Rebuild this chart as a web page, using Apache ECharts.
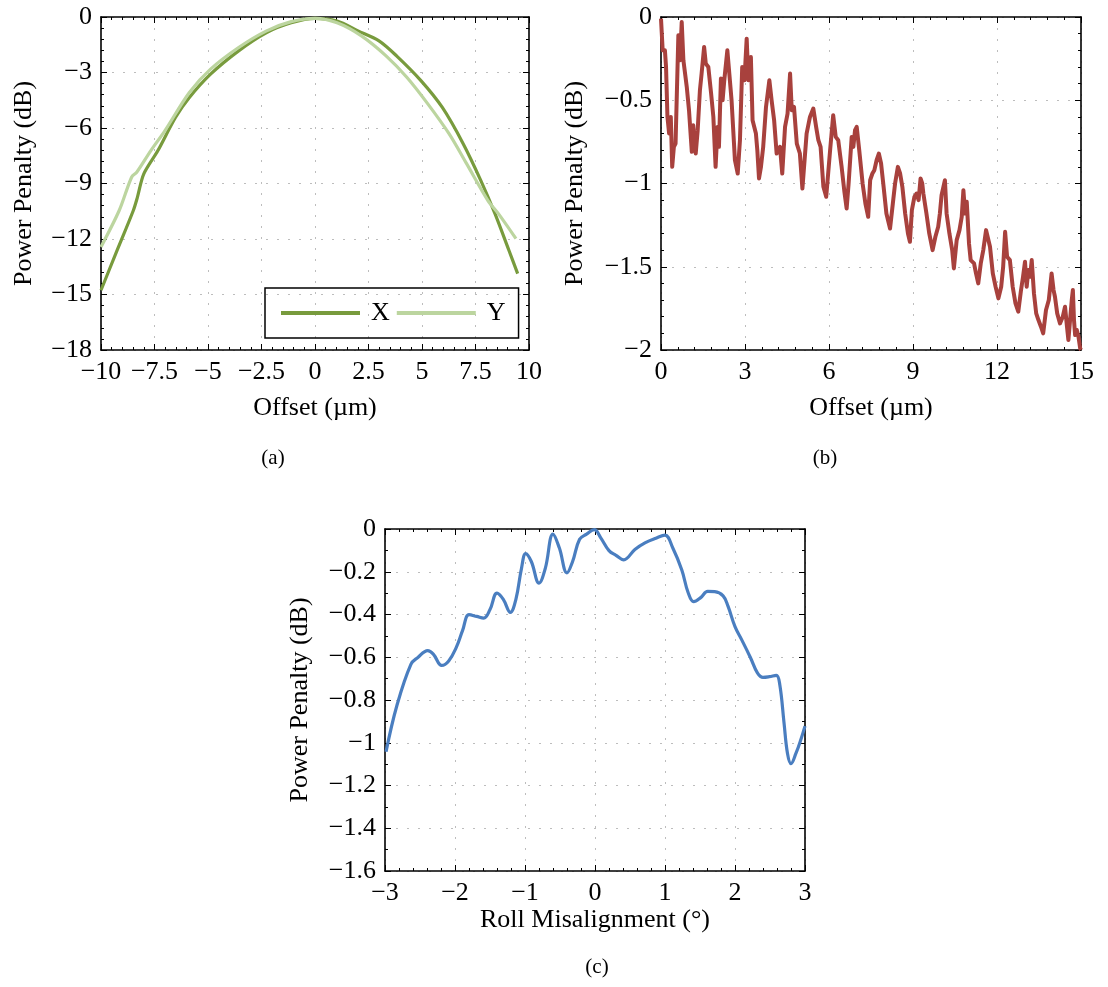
<!DOCTYPE html>
<html>
<head>
<meta charset="utf-8">
<script src="https://cdn.jsdelivr.net/npm/echarts@6/dist/echarts.min.js"></script>
<style>
html,body{margin:0;padding:0;background:#fff;}
#c{width:1108px;height:987px;}
</style>
</head>
<body>
<div id="c"></div>
<script>
// Panel (a): Offset (µm) vs Power Penalty (dB), X and Y
const aXoff = [-10, -9.31, -8.49, -8.3, -8.0, -7.34, -6.52, -5.87, -4.88, -3.57, -2.26, -1.11, 0, 1.03, 2.01, 2.99, 3.81, 4.96, 5.95, 6.93, 7.75, 8.41, 9.06, 9.47];
const aXpp  = [-14.77, -12.79, -10.46, -9.75, -8.48, -7.22, -5.43, -4.35, -3.09, -1.83, -0.84, -0.31, -0.07, -0.22, -0.75, -1.29, -2.10, -3.45, -4.89, -6.86, -8.84, -10.63, -12.61, -13.87];
const aYoff = [-10, -9.15, -8.57, -8.33, -7.67, -7.01, -5.87, -4.88, -3.57, -2.26, -1.11, 0, 1.03, 2.17, 3.32, 4.30, 5.28, 6.27, 7.09, 8.08, 8.57, 9.39];
const aYpp  = [-12.43, -10.46, -8.66, -8.39, -7.22, -6.14, -4.08, -2.82, -1.65, -0.75, -0.25, -0.07, -0.31, -1.02, -2.10, -3.27, -4.71, -6.32, -7.94, -9.92, -10.63, -11.98];

// Panel (b): Offset (µm) vs Power Penalty (dB)
const bOff = [0, 0.02, 0.06, 0.14, 0.18, 0.23, 0.29, 0.35, 0.40, 0.46, 0.52, 0.62, 0.68, 0.74, 0.80, 0.92, 1.00, 1.06, 1.10, 1.15, 1.24, 1.31, 1.39, 1.45, 1.54, 1.60, 1.69, 1.79, 1.87, 1.95, 2.02, 2.07, 2.14, 2.20, 2.26, 2.37, 2.44, 2.52, 2.64, 2.74, 2.82, 2.90, 2.98, 3.06, 3.12, 3.21, 3.27, 3.39, 3.44, 3.50, 3.57, 3.65, 3.75, 3.87, 3.95, 4.04, 4.13, 4.25, 4.33, 4.43, 4.52, 4.61, 4.67, 4.75, 4.85, 4.96, 5.05, 5.20, 5.32, 5.44, 5.54, 5.62, 5.70, 5.80, 5.90, 6.04, 6.15, 6.24, 6.33, 6.45, 6.55, 6.63, 6.70, 6.81, 6.87, 6.93, 6.99, 7.08, 7.20, 7.30, 7.40, 7.47, 7.55, 7.62, 7.70, 7.78, 7.86, 7.95, 8.05, 8.18, 8.28, 8.36, 8.46, 8.54, 8.62, 8.72, 8.82, 8.89, 8.96, 9.05, 9.13, 9.20, 9.27, 9.33, 9.37, 9.48, 9.58, 9.70, 9.80, 9.90, 9.96, 10.02, 10.14, 10.20, 10.30, 10.40, 10.46, 10.56, 10.66, 10.74, 10.80, 10.86, 10.92, 11.00, 11.06, 11.18, 11.25, 11.33, 11.42, 11.51, 11.61, 11.75, 11.85, 11.95, 12.05, 12.15, 12.22, 12.29, 12.36, 12.46, 12.56, 12.66, 12.76, 12.85, 12.93, 13.00, 13.06, 13.12, 13.18, 13.24, 13.32, 13.40, 13.48, 13.57, 13.65, 13.75, 13.85, 13.95, 14.02, 14.07, 14.15, 14.25, 14.35, 14.43, 14.50, 14.55, 14.62, 14.67, 14.71, 14.75, 14.79, 14.85, 14.91, 14.97, 15.0];
const bPP  = [-0.01, -0.01, -0.20, -0.20, -0.30, -0.60, -0.70, -0.60, -0.90, -0.78, -0.76, -0.11, -0.26, -0.03, -0.26, -0.42, -0.56, -0.56, -0.81, -0.65, -0.82, -0.68, -0.44, -0.34, -0.18, -0.28, -0.30, -0.46, -0.60, -0.90, -0.66, -0.78, -0.37, -0.50, -0.38, -0.20, -0.21, -0.50, -0.86, -0.94, -0.74, -0.30, -0.38, -0.13, -0.38, -0.24, -0.62, -0.70, -0.80, -0.97, -0.90, -0.78, -0.54, -0.38, -0.50, -0.62, -0.82, -0.78, -0.94, -0.66, -0.58, -0.34, -0.56, -0.54, -0.76, -0.82, -1.03, -0.70, -0.60, -0.55, -0.66, -0.74, -0.78, -1.02, -1.08, -0.80, -0.59, -0.72, -0.74, -0.90, -1.05, -1.15, -1.00, -0.72, -0.78, -0.68, -0.66, -0.80, -1.00, -1.12, -1.20, -0.98, -0.94, -0.92, -0.86, -0.82, -0.88, -1.02, -1.18, -1.27, -1.12, -1.00, -0.90, -0.94, -1.02, -1.18, -1.30, -1.35, -1.16, -1.08, -1.06, -1.10, -0.97, -1.00, -1.06, -1.18, -1.30, -1.40, -1.32, -1.26, -1.18, -1.07, -0.98, -1.18, -1.30, -1.40, -1.51, -1.34, -1.28, -1.20, -1.04, -1.18, -1.11, -1.36, -1.46, -1.48, -1.54, -1.60, -1.48, -1.40, -1.28, -1.38, -1.54, -1.62, -1.69, -1.62, -1.50, -1.29, -1.44, -1.46, -1.62, -1.72, -1.77, -1.65, -1.56, -1.47, -1.62, -1.52, -1.56, -1.46, -1.66, -1.78, -1.82, -1.86, -1.90, -1.76, -1.70, -1.54, -1.64, -1.68, -1.78, -1.84, -1.80, -1.74, -1.86, -1.94, -1.80, -1.70, -1.64, -1.82, -1.91, -1.88, -1.92, -1.99, -2.0];

// Panel (c): Roll Misalignment (°) vs Power Penalty (dB)
const cRoll = [-2.985, -2.83, -2.63, -2.53, -2.39, -2.31, -2.19, -2.09, -1.98, -1.89, -1.80, -1.69, -1.59, -1.50, -1.40, -1.31, -1.21, -1.13, -1.05, -0.99, -0.91, -0.80, -0.71, -0.60, -0.51, -0.40, -0.32, -0.22, -0.12, -0.01, 0.08, 0.20, 0.30, 0.41, 0.57, 0.72, 0.87, 1.00, 1.11, 1.24, 1.33, 1.41, 1.51, 1.61, 1.71, 1.83, 1.90, 2.00, 2.10, 2.22, 2.32, 2.40, 2.49, 2.59, 2.64, 2.70, 2.75, 2.80, 2.87, 2.94, 3.00];
const cPP   = [-1.042, -0.826, -0.633, -0.601, -0.569, -0.585, -0.638, -0.617, -0.553, -0.473, -0.401, -0.409, -0.417, -0.377, -0.300, -0.329, -0.390, -0.329, -0.184, -0.115, -0.152, -0.253, -0.184, -0.024, -0.088, -0.205, -0.152, -0.048, -0.024, -0.003, -0.040, -0.101, -0.123, -0.144, -0.096, -0.064, -0.043, -0.029, -0.088, -0.192, -0.297, -0.340, -0.321, -0.292, -0.293, -0.313, -0.361, -0.457, -0.521, -0.601, -0.673, -0.694, -0.691, -0.685, -0.729, -0.906, -1.050, -1.098, -1.050, -0.986, -0.922];

const panelLabels = ['(a)', '(b)', '(c)'];

const zip = (xs, ys) => xs.map((x, i) => [x, ys[i]]);
const FONT = 'Liberation Serif';
const FS = 26;
const fmt = v => String(parseFloat(Number(v).toFixed(3))).replace('-', '\u2212');

function axisCommon(extra) {
  return Object.assign({
    type: 'value',
    axisLine: { show: true, onZero: false, lineStyle: { color: '#000', width: 1.6 } },
    axisTick: { show: true, inside: true, length: 6, lineStyle: { color: '#000', width: 1 } },
    minorTick: { show: true, splitNumber: 5, length: 3, lineStyle: { color: '#000', width: 1 } },
    axisLabel: { show: true, formatter: fmt, color: '#000', fontFamily: FONT, fontSize: FS, margin: 9 },
    splitLine: { show: false },
    nameTextStyle: { color: '#000', fontFamily: FONT, fontSize: FS }
  }, extra);
}
function secondary(extra) {
  const a = axisCommon(extra);
  a.axisLabel = { show: false };
  a.splitLine = { show: false };
  return a;
}
const gridLine = { show: true, lineStyle: { color: '#bdbdbd', type: [2, 9], width: 1 } };
const minor2 = { show: true, splitNumber: 2, length: 3, lineStyle: { color: '#000', width: 1 } };

const grids = [
  { left: 101, top: 17, width: 428, height: 333 },
  { left: 661, top: 17, width: 420, height: 333 },
  { left: 385, top: 529, width: 420, height: 342 }
];

const xAxes = [
  axisCommon({ gridIndex: 0, position: 'bottom', min: -10, max: 10, interval: 2.5, name: 'Offset (\u00b5m)', nameLocation: 'middle', nameGap: 45, splitLine: gridLine }),
  secondary({ gridIndex: 0, position: 'top', min: -10, max: 10, interval: 2.5 }),
  axisCommon({ gridIndex: 1, position: 'bottom', min: 0, max: 15, interval: 3, name: 'Offset (\u00b5m)', nameLocation: 'middle', nameGap: 45, splitLine: gridLine }),
  secondary({ gridIndex: 1, position: 'top', min: 0, max: 15, interval: 3 }),
  axisCommon({ gridIndex: 2, position: 'bottom', min: -3, max: 3, interval: 1, name: 'Roll Misalignment (\u00b0)', nameLocation: 'middle', nameGap: 36, splitLine: gridLine }),
  secondary({ gridIndex: 2, position: 'top', min: -3, max: 3, interval: 1 })
];
const yAxes = [
  axisCommon({ gridIndex: 0, position: 'left', min: -18, max: 0, interval: 3, name: 'Power Penalty (dB)', nameLocation: 'middle', nameGap: 64, splitLine: gridLine }),
  secondary({ gridIndex: 0, position: 'right', min: -18, max: 0, interval: 3 }),
  axisCommon({ gridIndex: 1, position: 'left', min: -2, max: 0, interval: 0.5, name: 'Power Penalty (dB)', nameLocation: 'middle', nameGap: 73, splitLine: gridLine }),
  secondary({ gridIndex: 1, position: 'right', min: -2, max: 0, interval: 0.5 }),
  axisCommon({ gridIndex: 2, position: 'left', min: -1.6, max: 0, interval: 0.2, name: 'Power Penalty (dB)', nameLocation: 'middle', nameGap: 72, splitLine: gridLine, minorTick: minor2 }),
  secondary({ gridIndex: 2, position: 'right', min: -1.6, max: 0, interval: 0.2, minorTick: minor2 })
];

const labelText = (t, x, y) => ({
  type: 'text', x: x, y: y, silent: true,
  style: { text: t, textAlign: 'center', textVerticalAlign: 'middle', font: '21px "Liberation Serif"', fill: '#000' }
});

const option = {
  backgroundColor: '#fff',
  animation: false,
  textStyle: { fontFamily: FONT },
  grid: grids,
  xAxis: xAxes,
  yAxis: yAxes,
  graphic: [
    labelText(panelLabels[0], 273, 458),
    labelText(panelLabels[1], 825, 458),
    labelText(panelLabels[2], 597, 967)
  ],
  legend: {
    left: 265, top: 288,
    data: ['X', 'Y'],
    icon: 'rect',
    itemWidth: 79, itemHeight: 4, itemGap: 7,
    padding: [12, 13, 12, 16],
    borderColor: '#000', borderWidth: 1.5,
    textStyle: { fontFamily: FONT, fontSize: FS, color: '#000', padding: [0, 0, 0, 6] }
  },
  series: [
    { name: 'X', type: 'line', xAxisIndex: 0, yAxisIndex: 0, data: zip(aXoff, aXpp), showSymbol: false, smooth: 0.3, lineStyle: { color: '#789b3d', width: 3.2 }, itemStyle: { color: '#789b3d' } },
    { name: 'Y', type: 'line', xAxisIndex: 0, yAxisIndex: 0, data: zip(aYoff, aYpp), showSymbol: false, smooth: 0.3, lineStyle: { color: '#bcd59f', width: 3.2 }, itemStyle: { color: '#bcd59f' } },
    { name: 'b', type: 'line', xAxisIndex: 2, yAxisIndex: 2, data: zip(bOff, bPP), showSymbol: false, lineStyle: { color: '#a8413d', width: 4, join: 'round' }, itemStyle: { color: '#a8413d' } },
    { name: 'c', type: 'line', xAxisIndex: 4, yAxisIndex: 4, data: zip(cRoll, cPP), showSymbol: false, smooth: 0.4, lineStyle: { color: '#4a7ec0', width: 3.2 }, itemStyle: { color: '#4a7ec0' } }
  ]
};

const chart = echarts.init(document.getElementById('c'), null, { renderer: 'canvas' });
chart.setOption(option);
</script>
</body>
</html>
